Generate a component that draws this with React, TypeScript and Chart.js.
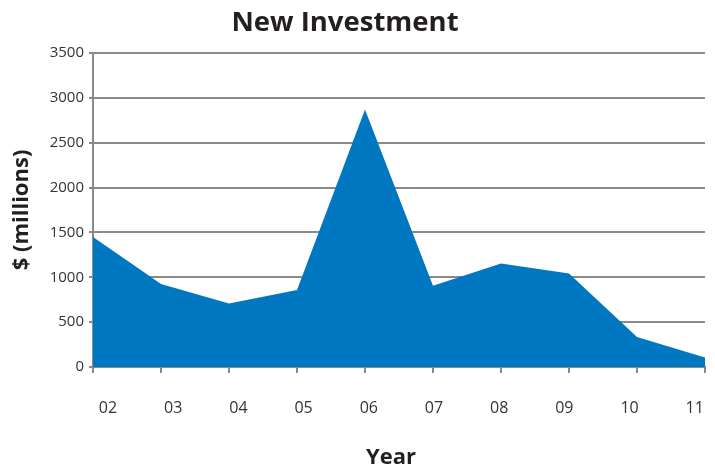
import React, { useEffect, useRef } from "react";
import { Chart, registerables } from "chart.js";

Chart.register(...registerables);

const years = ["02", "03", "04", "05", "06", "07", "08", "09", "10", "11"];
const investment = [1450, 925, 708, 857, 2870, 905, 1155, 1043, 335, 105];
const yTicks = [0, 500, 1000, 1500, 2000, 2500, 3000, 3500];

const chartTitle = "New Investment";
const xTitle = "Year";
const yTitle = "$ (millions)";

const GRID = "#8a8a8a";
const TEXT = "#333333";
const BOLD = "#231f20";
const FONT = "'Open Sans', sans-serif";
const BOLD_FONT = "'Open Sans', sans-serif";

const titlesPlugin = {
  id: "titlesPlugin",
  afterDraw(chart: any) {
    const { ctx, chartArea } = chart;
    ctx.save();
    ctx.fillStyle = BOLD;
    ctx.textAlign = "center";
    ctx.textBaseline = "middle";
    ctx.font = `bold 27.5px ${BOLD_FONT}`;
    ctx.fillText(chartTitle, 345, 23);
    ctx.font = `bold 22px ${BOLD_FONT}`;
    ctx.fillText(xTitle, 391, 458);
    ctx.translate(22, (chartArea.top + chartArea.bottom) / 2);
    ctx.rotate(-Math.PI / 2);
    ctx.fillText(yTitle, 0, 0);
    ctx.restore();
  },
};

const noPad = (axis: any) => {
  axis.paddingLeft = 0;
  axis.paddingRight = 0;
  axis.paddingTop = 0;
  axis.paddingBottom = 0;
};

export default function App() {
  const ref = useRef<HTMLCanvasElement | null>(null);
  useEffect(() => {
    if (!ref.current) return;
    const chart = new Chart(ref.current, {
      type: "line",
      data: {
        datasets: [
          {
            data: investment.map((v, i) => ({ x: i, y: v })),
            backgroundColor: "#0077c1",
            borderColor: "#0077c1",
            borderWidth: 0,
            fill: "origin",
            pointRadius: 0,
            tension: 0,
          },
        ],
      },
      options: {
        animation: false,
        responsive: false,
        maintainAspectRatio: false,
        layout: { padding: { top: 53, right: 10, bottom: 0, left: 0 } },
        plugins: { legend: { display: false }, tooltip: { enabled: false }, title: { display: false } },
        scales: {
          x: {
            type: "linear",
            position: "bottom",
            weight: 0,
            min: 0,
            max: years.length - 1,
            afterBuildTicks: (axis: any) => {
              axis.ticks = years.map((_, i) => ({ value: i }));
            },
            afterFit: (axis: any) => {
              axis.height = 10;
              noPad(axis);
            },
            grid: {
              display: true,
              drawOnChartArea: false,
              drawTicks: true,
              tickLength: 6,
              color: GRID,
              lineWidth: 2,
            },
            border: { display: true, color: GRID, width: 2 },
            ticks: { display: false },
          },
          x2: {
            type: "linear",
            position: "bottom",
            weight: 1,
            min: -0.23,
            max: 9.157,
            afterBuildTicks: (axis: any) => {
              axis.ticks = years.map((_, i) => ({ value: i }));
            },
            afterFit: (axis: any) => {
              axis.height = 93;
              noPad(axis);
            },
            grid: { display: false, drawTicks: false },
            border: { display: false },
            ticks: {
              padding: 22,
              maxRotation: 0,
              autoSkip: false,
              color: TEXT,
              font: { family: FONT, size: 16 },
              callback: (v: any) => years[v as number] ?? "",
            },
          },
          y: {
            min: 0,
            max: 3500,
            afterBuildTicks: (axis: any) => {
              axis.ticks = yTicks.map((v) => ({ value: v }));
            },
            afterFit: (axis: any) => {
              axis.width = 93;
              noPad(axis);
            },
            grid: { color: GRID, lineWidth: 2, tickLength: 4, drawTicks: true },
            border: { display: true, color: GRID, width: 2 },
            ticks: {
              padding: 5,
              color: TEXT,
              font: { family: FONT, size: 15 },
              callback: (v: any) => String(v),
            },
          },
        },
      },
      plugins: [titlesPlugin],
    } as any);
    return () => chart.destroy();
  }, []);
  return (
    <div style={{ position: "fixed", left: 0, top: 0, width: 715, height: 470, background: "#fff" }}>
      <canvas ref={ref} width={715} height={470} style={{ width: 715, height: 470, display: "block" }} />
    </div>
  );
}
